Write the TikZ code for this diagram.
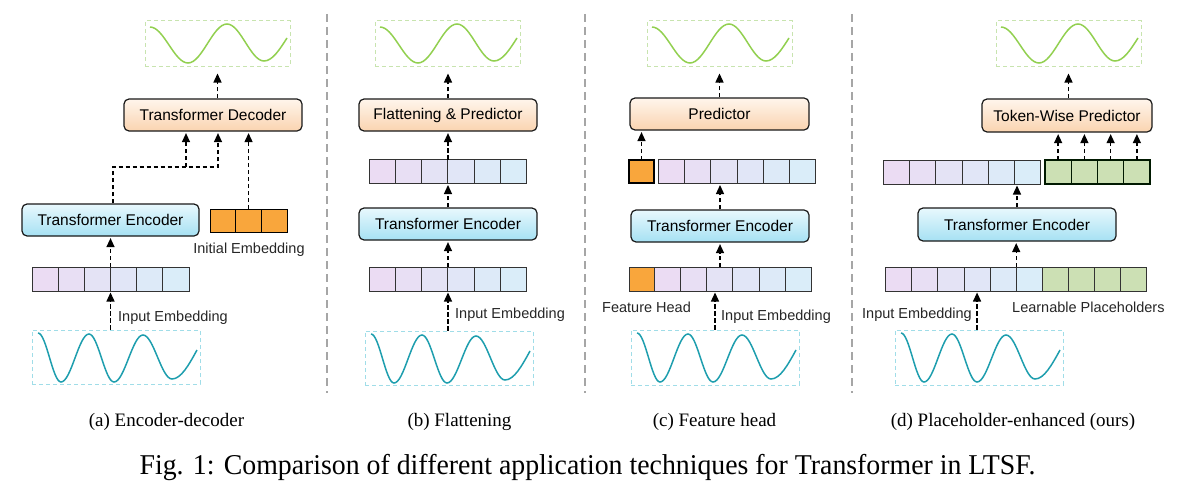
\documentclass[tikz,border=0pt]{standalone}
\usepackage{fontspec}
\setmainfont{Liberation Serif}
\newfontfamily\arialf{Liberation Sans}
\usetikzlibrary{arrows.meta}
\definecolor{embL}{RGB}{235,220,243}
\definecolor{embR}{RGB}{218,237,249}
\definecolor{decT}{RGB}{255,245,236}
\definecolor{decB}{RGB}{250,212,176}
\definecolor{encT}{RGB}{232,248,253}
\definecolor{encB}{RGB}{166,225,243}
\definecolor{orng}{RGB}{249,166,60}
\definecolor{grn}{RGB}{204,224,180}
\definecolor{grnline}{RGB}{146,208,80}
\definecolor{grnbox}{RGB}{200,228,175}
\definecolor{teal}{RGB}{30,158,174}
\definecolor{tealbox}{RGB}{160,221,232}
\definecolor{sepc}{RGB}{166,166,166}
\tikzset{
 blk/.style={draw=black!90, line width=1.2pt, rounded corners=5pt, minimum height=32pt, inner sep=0pt, font=\fontsize{15.5}{18}\arialf},
 decb/.style={blk, top color=decT, bottom color=decB},
 encb/.style={blk, top color=encT, bottom color=encB},
 cell/.style={draw=black!80, line width=1pt, minimum height=24pt, inner sep=0pt, outer sep=0pt},
 ocell/.style={cell, fill=orng, draw=black, line width=1.3pt},
 gcell/.style={cell, fill=grn},
 arr/.style={-{Triangle[length=9pt,width=8pt]}, dash pattern=on 4.5pt off 2.5pt, line width=1.3pt, shorten >=1.5pt},
 outbox/.style={draw=grnbox, dash pattern=on 4pt off 3pt, line width=1pt, minimum width=145pt, minimum height=45pt, inner sep=0pt},
 inbox/.style={draw=tealbox, dash pattern=on 4pt off 3pt, line width=1pt, minimum width=168pt, minimum height=54pt, inner sep=0pt},
 wavein/.style={draw=teal, line width=1.5pt},
 waveout/.style={draw=grnline, line width=1.5pt},
 lab/.style={font=\fontsize{14.5}{17}\arialf, text=black!85, inner sep=0pt},
 subcap/.style={font=\fontsize{19}{22}\selectfont, inner sep=0pt, anchor=base},
 sep/.style={draw=sepc, line width=1.5pt, dash pattern=on 8pt off 5pt},
}
\newcommand{\embrow}[5]{%
  \foreach \i in {1,...,#4}{%
    \pgfmathsetmacro{\cx}{#2+(\i-0.5)*#5}%
    \pgfmathtruncatemacro{\pp}{(\i-1)*100/(#4-1)}%
    \node[cell, minimum width=#5pt, fill=embR!\pp!embL] (#1-\i) at (\cx,#3) {};%
  }}
\newcommand{\inwave}[2]{%
 \draw[wavein] ({#1+6},{#2+3}) cos ({#1+17.5},{#2+27.5}) sin ({#1+29},{#2+52}) cos ({#1+43},{#2+28}) sin ({#1+57},{#2+4}) cos ({#1+69.5},{#2+28}) sin ({#1+82},{#2+52}) cos ({#1+96.5},{#2+28.5}) sin ({#1+111},{#2+5}) cos ({#1+125.5},{#2+27}) sin ({#1+140},{#2+49}) cos ({#1+165},{#2+20});}
\newcommand{\outwave}[2]{%
 \draw[waveout] ({#1+5},{#2+6}) cos ({#1+24},{#2+24}) sin ({#1+43},{#2+42}) cos ({#1+62.5},{#2+22.5}) sin ({#1+82},{#2+3}) cos ({#1+100.5},{#2+21.5}) sin ({#1+119},{#2+40}) cos ({#1+142},{#2+17});}
\begin{document}
\begin{tikzpicture}[x=1pt,y=-1pt]
\useasboundingbox (0,0) rectangle (1190,487);
% separators
\draw[sep] (327,14) -- (327,393);
\draw[sep] (585,14) -- (585,393);
\draw[sep] (852,14) -- (852,393);

% ---------- (a) ----------
\node[outbox] (aout) at (217.5,43.5) {};
\outwave{145}{21}
\node[decb, minimum width=178pt] (dec) at (213,115) {Transformer Decoder};
\node[encb, minimum width=177pt] (aenc) at (110.5,220) {Transformer Encoder};
\foreach \i in {1,2,3} \node[ocell, line width=1pt, minimum width=25.7pt, minimum height=23pt] (ie-\i) at ({210+(\i-0.5)*25.7},220.5) {};
\node[lab, anchor=base] (ielab) at (249,253) {Initial Embedding};
\embrow{a1}{32}{279}{6}{26.17}
\node[inbox] (ain) at (116,357) {};
\inwave{32}{330}
\node[lab, anchor=base west] (aielab) at (118,321) {Input Embedding};
\coordinate (aj) at (113,167);
\coordinate (ak1) at (218,167);
\coordinate (ak2) at (186,167);
\draw[arr, shorten >=7pt] (dec.north -| aout.south) -- (aout.south);
\draw[arr] (aenc.north -| aj) -- (aj) -- (ak1) -- (dec.south -| ak1);
\draw[arr] (ak2) -- (dec.south -| ak2);
\draw[arr] (ie-2.north) -- (dec.south -| ie-2.north);
\draw[arr] (a1-3.north east) -- (aenc.south -| a1-3.north east);
\draw[arr] (ain.north -| a1-3.south east) -- (a1-3.south east);
\node[subcap] (capa) at (166.5,426) {(a) Encoder-decoder};

% ---------- (b) ----------
\node[outbox] (bout) at (447.5,43.5) {};
\outwave{375}{21}
\node[decb, minimum width=178pt] (fp) at (448,115) {Flattening \& Predictor};
\embrow{b1}{369}{171.5}{6}{26.33}
\node[encb, minimum width=178pt] (benc) at (448,224) {Transformer Encoder};
\embrow{b2}{369}{279}{6}{26.33}
\node[inbox] (bin) at (449,358) {};
\inwave{365}{331}
\node[lab, anchor=base west] (bielab) at (455,318) {Input Embedding};
\draw[arr, shorten >=7pt] (fp.north) -- (bout.south -| fp.north);
\draw[arr] (b1-3.north east) -- (fp.south -| b1-3.north east);
\draw[arr] (benc.north -| b1-3.south east) -- (b1-3.south east);
\draw[arr] (b2-3.north east) -- (benc.south -| b2-3.north east);
\draw[arr] (bin.north -| b2-3.south east) -- (b2-3.south east);
\node[subcap] (capb) at (459.5,426) {(b) Flattening};

% ---------- (c) ----------
\node[outbox] (cout) at (719.5,43.5) {};
\outwave{647}{21}
\node[decb, minimum width=179pt] (pred) at (719.5,114) {Predictor};
\node[ocell, minimum width=25pt, minimum height=23pt] (c0) at (641.5,171.5) {};
\embrow{c1}{658}{171.5}{6}{26.33}
\node[encb, minimum width=178pt] (cenc) at (720,226) {Transformer Encoder};
\node[cell, fill=orng, minimum width=25pt] (c2-0) at (641.8,279) {};
\embrow{c2}{654.3}{279}{6}{26.2}
\node[inbox, minimum height=55pt] (cin) at (715,357.5) {};
\inwave{631}{330}
\coordinate (cw) at (715,300);
\node[lab, anchor=base] (fhlab) at (646.5,312) {Feature Head};
\node[lab, anchor=base west] (cielab) at (721,320.7) {Input Embedding};
\draw[arr, shorten >=7pt] (pred.north -| cout.south) -- (cout.south);
\draw[arr] (c0.north) -- (pred.south -| c0.north);
\draw[arr] (cenc.north) -- (c1-3.south -| cenc.north);
\draw[arr] (c2-3.north -| cenc.south) -- (cenc.south);
\draw[arr] (cin.north -| cw) -- (c2-3.south -| cw);
\node[subcap] (capc) at (714.5,426) {(c) Feature head};

% ---------- (d) ----------
\node[outbox] (dout) at (1068.5,43.5) {};
\outwave{996}{21}
\node[decb, minimum width=170pt, minimum height=33pt] (twp) at (1067,115.5) {Token-Wise Predictor};
\embrow{d1}{883}{172}{6}{26.33}
\foreach \i in {1,...,4} \node[gcell, draw=black!90!green, line width=1.3pt, minimum width=26.25pt] (g1-\i) at ({1045+(\i-0.5)*26.25},172) {};
\node[encb, minimum width=198pt, minimum height=33pt] (denc) at (1017,224.5) {Transformer Encoder};
\embrow{d2}{885.7}{279}{6}{26.1}
\foreach \i in {1,...,4} \node[gcell, minimum width=26.1pt] (g2-\i) at ({1042.3+(\i-0.5)*26.1},279) {};
\node[inbox, minimum height=55pt] (din) at (979,357.5) {};
\inwave{895}{330}
\node[lab, anchor=base east] (dielab) at (972,318) {Input Embedding};
\node[lab, anchor=base west] (lplab) at (1012,312) {Learnable Placeholders};
\draw[arr, shorten >=7pt] (twp.north -| dout.south) -- (dout.south);
\foreach \i in {1,...,4} \draw[arr] (g1-\i.north) -- (twp.south -| g1-\i.north);
\draw[arr] (denc.north) -- (d1-5.south -| denc.north);
\draw[arr] (d2-5.north east) -- (denc.south -| d2-5.north east);
\draw[arr] (din.north -| d2-4.south) -- (d2-4.south);
\node[subcap] (capd) at (1013,426) {(d) Placeholder-enhanced (ours)};

% main caption
\node[inner sep=0pt, anchor=base, font=\fontsize{28.7}{32}\selectfont] (cap) at (587.5,474) {\scalebox{0.969}[1]{Fig. 1: Comparison of different application techniques for Transformer in LTSF.}};
\end{tikzpicture}
\end{document}
